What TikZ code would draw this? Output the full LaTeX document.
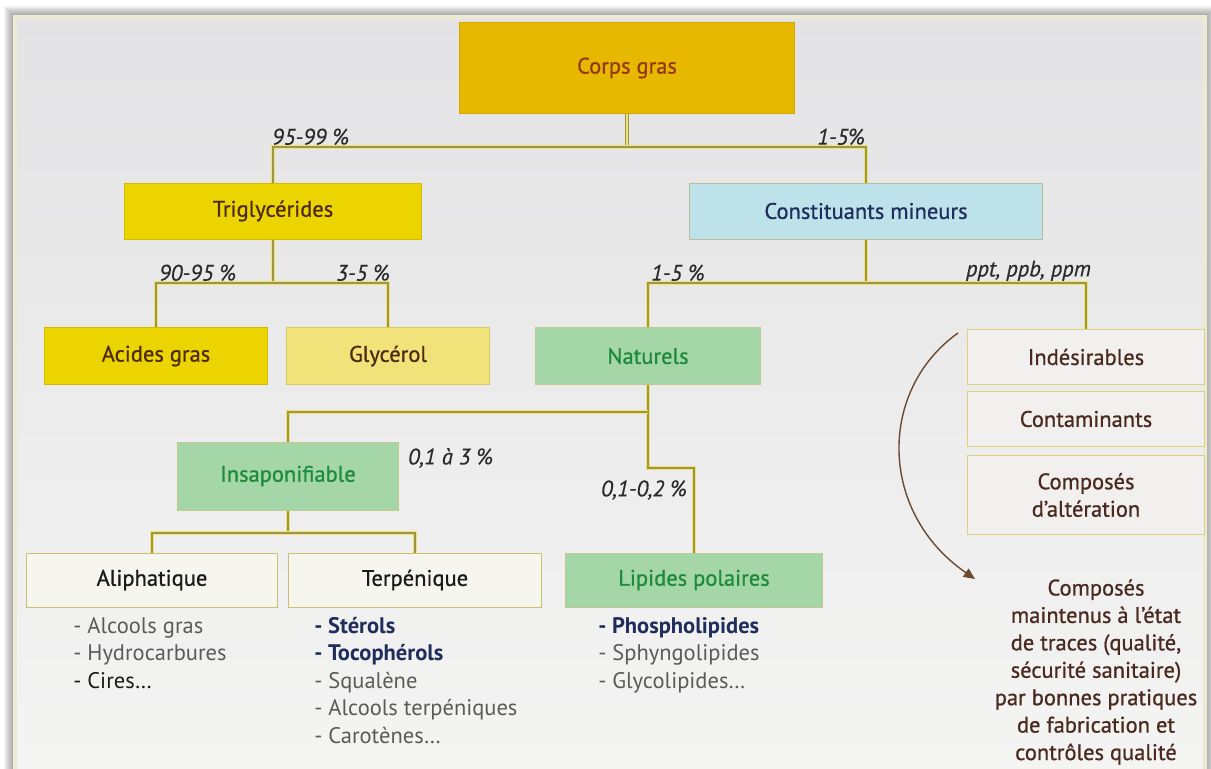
\documentclass[tikz,border=0pt]{standalone}
\usepackage{fontspec}
\setmainfont{PT Sans}
\newfontfamily\boxfont[FakeBold=0.8]{PT Sans}
\newfontfamily\pctfont[FakeBold=0.4]{PT Sans}
\usepackage{xcolor}
\usetikzlibrary{arrows.meta,positioning,backgrounds}
\definecolor{cgold}{HTML}{E6B800}
\definecolor{cgoldd}{HTML}{D4A600}
\definecolor{cyel}{HTML}{EBD400}
\definecolor{cyeld}{HTML}{D2BC00}
\definecolor{cpale}{HTML}{F2E27A}
\definecolor{cpaled}{HTML}{D8C860}
\definecolor{cblue}{HTML}{BEE2EA}
\definecolor{cblued}{HTML}{B9BD98}
\definecolor{cgreen}{HTML}{A5D6A7}
\definecolor{cgreend}{HTML}{C2C890}
\definecolor{clight}{HTML}{F6F5EE}
\definecolor{clightd}{HTML}{C9C070}
\definecolor{cright}{HTML}{F2F0EE}
\definecolor{crightd}{HTML}{D9D27A}
\definecolor{cbrownred}{HTML}{94391A}
\definecolor{cbrown}{HTML}{4E2A10}
\definecolor{cnavy}{HTML}{1F2D5C}
\definecolor{cgrtext}{HTML}{1D8A3C}
\definecolor{cdark}{HTML}{1A1A1A}
\definecolor{crtext}{HTML}{4A2A20}
\definecolor{clink}{HTML}{9E9640}
\definecolor{chalo}{HTML}{EEE27A}
\definecolor{cpct}{HTML}{2A2A2A}
\definecolor{clist}{HTML}{5A5A5A}
\definecolor{carrow}{HTML}{6B4A30}
\definecolor{cpanelt}{HTML}{E3E3E5}
\definecolor{cpanelb}{HTML}{F4F4F3}
\definecolor{cedge}{HTML}{ECEAD2}

\begin{document}
\begin{tikzpicture}[x=0.025cm, y=-0.025cm,
    font=\fontsize{16}{19.5}\selectfont,
    box/.style={draw, line width=0.7pt, align=center, inner sep=2pt, minimum height=1.4cm,
                font=\boxfont\fontsize{16}{19.5}\selectfont},
    gold/.style={box, fill=cgold, draw=cgoldd, text=cbrownred},
    yel/.style={box, fill=cyel, draw=cyeld, text=cbrown},
    pale/.style={box, fill=cpale, draw=cpaled, text=cbrown},
    blue/.style={box, fill=cblue, draw=cblued, text=cnavy},
    green/.style={box, fill=cgreen, draw=cgreend, text=cgrtext},
    plain/.style={box, fill=clight, draw=clightd, text=cdark, minimum height=1.35cm},
    side/.style={box, fill=cright, draw=crightd, text=crtext, minimum width=5.925cm},
    pct/.style={font=\pctfont\fontsize{16}{19}\selectfont\itshape, text=cpct, inner sep=2pt},
    lst/.style={align=left, anchor=north west, inner sep=0pt, text=clist},
    link/.style={draw=clink, line width=0.9pt, preaction={draw=chalo, line width=2.6pt}},
    curve/.style={draw=carrow, line width=1pt, -{Triangle[length=8pt, width=7pt]}}]
  \useasboundingbox (0,0) rectangle (1211,769);

  % boxes
  \node[gold, minimum width=8.35cm, minimum height=2.25cm] (corps) at (627,68) {Corps gras};
  \node[yel, minimum width=7.4cm] (trig) at (273,211) {Triglycérides};
  \node[blue, minimum width=8.825cm] (const) at (866,211) {Constituants mineurs};
  \node[yel, minimum width=5.55cm, minimum height=1.425cm] (acides) at (156,356) {Acides gras};
  \node[pale, minimum width=5.05cm, minimum height=1.425cm] (glyc) at (388,356) {Glycérol};
  \node[green, minimum width=5.6cm, minimum height=1.425cm] (natur) at (648,356) {Naturels};
  \node[side, minimum height=1.375cm] (indes) at (1086,357) {Indésirables};
  \node[side, minimum height=1.375cm] (conta) at (1086,419) {Contaminants};
  \node[side, minimum height=1.975cm] (alter) at (1086,495) {Composés\\d’altération};
  \node[green, minimum width=5.525cm, minimum height=1.7cm] (insap) at (288,476) {Insaponifiable};
  \node[plain, minimum width=6.275cm] (aliph) at (152,580) {Aliphatique};
  \node[plain, minimum width=6.3cm] (terp) at (415,580) {Terpénique};
  \node[green, minimum width=6.425cm, minimum height=1.35cm] (lipid) at (694,580) {Lipides polaires};

  % lists
  \node[lst] (aliphlist) at (73,617) {- Alcools gras\\- Hydrocarbures\\\textcolor{cdark}{- Cires…}};
  \node[lst] (terplist) at (314,617) {\textcolor{cnavy}{\bfseries - Stérols}\\\textcolor{cnavy}{\bfseries - Tocophérols}\\- Squalène\\- Alcools terpéniques\\- Carotènes…};
  \node[lst] (lipidlist) at (598,617) {\textcolor{cnavy}{\bfseries - Phospholipides}\\- Sphyngolipides\\- Glycolipides…};
  \node[align=center, anchor=north, inner sep=0pt, text=crtext, font=\boxfont\fontsize{16}{19.5}\selectfont] (maint) at (1096,579)
       {Composés\\maintenus à l’état\\de traces (qualité,\\sécurité sanitaire)\\par bonnes pratiques\\de fabrication et\\contrôles qualité};

  % junctions
  \coordinate (j1) at (627,147);
  \coordinate (j2) at (273,283);
  \coordinate (j3) at (866,283);
  \coordinate (j4) at (648,412);
  \coordinate (j5) at (648,468);
  \coordinate (j6) at (288,533);
  \coordinate (arcstart) at (958,333);
  \coordinate (arcend) at (975,579);

  % percentages
  \node[pct, anchor=south west] (p1) at (269,148) {95-99 \%};
  \node[pct, anchor=south east] (p2) at (868,148) {1-5\%};
  \node[pct, anchor=south west] (p3) at (156,284) {90-95 \%};
  \node[pct, anchor=south east] (p4) at (393,284) {3-5 \%};
  \node[pct, anchor=south west] (p5) at (648,284) {1-5 \%};
  \node[pct, anchor=south east] (p6) at (1094,284) {ppt, ppb, ppm};
  \node[pct, anchor=west] (p7) at (405,458) {0,1 à 3 \%};
  \node[pct, anchor=east] (p8) at (690,490) {0,1-0,2 \%};

  \begin{scope}[on background layer]
    \fill[white] (0,0) rectangle (1211,769);
    \foreach \d in {1,...,9}
      \fill[black, opacity=0.04] ({13-\d},{15-\d}) rectangle ({1207+\d},769);
    \shade[top color=cpanelt, bottom color=cpanelb] (13,15) rectangle (1207,769);
    \draw[cedge, line width=2.5pt] (15,17) rectangle (1205,775);
    % connectors
    \draw[draw=clink, double=chalo, double distance=2pt, line width=0.7pt] (corps.south) -- (j1);
    \draw[link] (trig.north) |- (j1) -| (const.north);
    \draw[link] (trig.south) -- (j2);
    \draw[link] (acides.north) |- (j2) -| (glyc.north);
    \draw[link] (const.south) -- (j3);
    \draw[link] (natur.north) |- (j3) -| (indes.north);
    \draw[link] (natur.south) -- (j5) -| (lipid.north);
    \draw[link] (insap.north) |- (j4);
    \draw[link] (insap.south) -- (j6);
    \draw[link] (aliph.north) |- (j6) -| (terp.north);
  \end{scope}
  \draw[curve] (arcstart) .. controls (878,390) and (878,512) .. (arcend);
\end{tikzpicture}
\end{document}
